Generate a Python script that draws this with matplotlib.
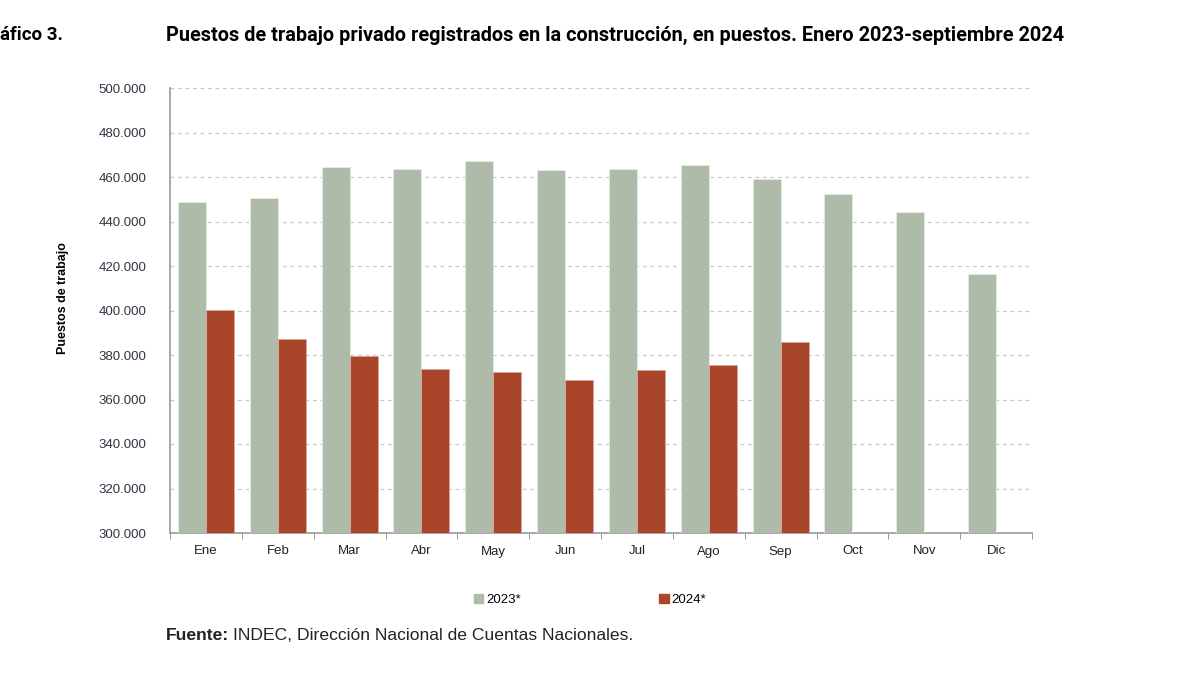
import matplotlib
matplotlib.use("Agg")
import matplotlib.pyplot as plt
import numpy as np
from matplotlib.ticker import FuncFormatter, MultipleLocator
from matplotlib.patches import Patch

# data
months = ["Ene", "Feb", "Mar", "Abr", "May", "Jun", "Jul", "Ago", "Sep", "Oct", "Nov", "Dic"]
jobs_2023 = [448700, 450400, 464300, 463400, 467200, 463100, 463700, 465200, 459000, 452300, 444300, 416500]
jobs_2024 = [400200, 387300, 379700, 373900, 372500, 368800, 373100, 375500, 385700]

green = "#AEBBA8"
red = "#A9462A"
narrow = ["Liberation Sans Narrow", "Roboto", "DejaVu Sans"]
plain = ["Liberation Sans", "DejaVu Sans"]

fig = plt.figure(figsize=(12, 6.75), dpi=100)
ax = fig.add_axes([170 / 1200, 1 - 533 / 675, 862 / 1200, 445 / 675])

x = np.arange(len(months))
w = 0.39
ax.bar(x[:len(jobs_2023)] - w / 2, jobs_2023, width=w, color=green, edgecolor="#e8ece6", linewidth=0.6, zorder=3)
ax.bar(x[:len(jobs_2024)] + w / 2, jobs_2024, width=w, color=red, edgecolor="#d9a99b", linewidth=0.6, zorder=3)

ax.set_xlim(-0.5, len(months) - 0.5)
ax.set_ylim(300000, 500000)
ax.yaxis.set_major_locator(MultipleLocator(20000))
ax.yaxis.set_major_formatter(FuncFormatter(lambda v, p: f"{int(v):,}".replace(",", ".")))
ax.grid(axis="y", linestyle=(0, (3, 3)), color="#c8c8c8", linewidth=0.9, zorder=0)

ax.set_xticks(x)
ax.set_xticklabels(months, family=plain, fontsize=9.5, color="#222222")
ax.set_xticks(np.arange(-0.5, len(months), 1), minor=True)
ax.tick_params(axis="x", which="major", length=0, pad=9)
ax.tick_params(axis="x", which="minor", length=4, color="#888888")
ax.tick_params(axis="y", length=0, pad=17, labelsize=9.5, labelcolor="#333344")
for lab in ax.get_yticklabels():
    lab.set_family(plain)

for s in ["top", "right"]:
    ax.spines[s].set_visible(False)
for s in ["left", "bottom"]:
    ax.spines[s].set_color("#999999")
    ax.spines[s].set_linewidth(1.2)

fig.text(63 / 1200, 1 - 298 / 675, "Puestos de trabajo", rotation=90, ha="center", va="center",
         fontsize=9, fontweight="bold", family=plain)

fig.text(0 / 1200, 1 - 35 / 675, "áfico 3.", ha="left", va="center", fontsize=13.5,
         fontweight="bold", family=narrow)
fig.text(166 / 1200, 1 - 35 / 675,
         "Puestos de trabajo privado registrados en la construcción, en puestos. Enero 2023-septiembre 2024",
         ha="left", va="center", fontsize=14.3, fontweight="bold", family=narrow)

handles = [Patch(color=green, label="2023*"), Patch(color=red, label="2024*")]
fig.legend(handles=handles, loc="center", bbox_to_anchor=(590 / 1200, 1 - 600 / 675), ncol=2,
           frameon=False, handlelength=0.7, handleheight=0.7, handletextpad=0.2, columnspacing=10.5,
           prop={"family": plain, "size": 9.5})

# source line: bold label then regular text right after it
src = fig.text(166 / 1200, 1 - 636 / 675, "Fuente:", ha="left", va="center", fontsize=12.6,
               fontweight="bold", family=plain, color="#222222")
fig.canvas.draw()
bb = src.get_window_extent(renderer=fig.canvas.get_renderer())
fig.text((bb.x1 + 4) / fig.bbox.width, 1 - 636 / 675, "INDEC, Dirección Nacional de Cuentas Nacionales.",
         ha="left", va="center", fontsize=12.6, family=plain, color="#222222")

fig.savefig("out.png", dpi=100)
